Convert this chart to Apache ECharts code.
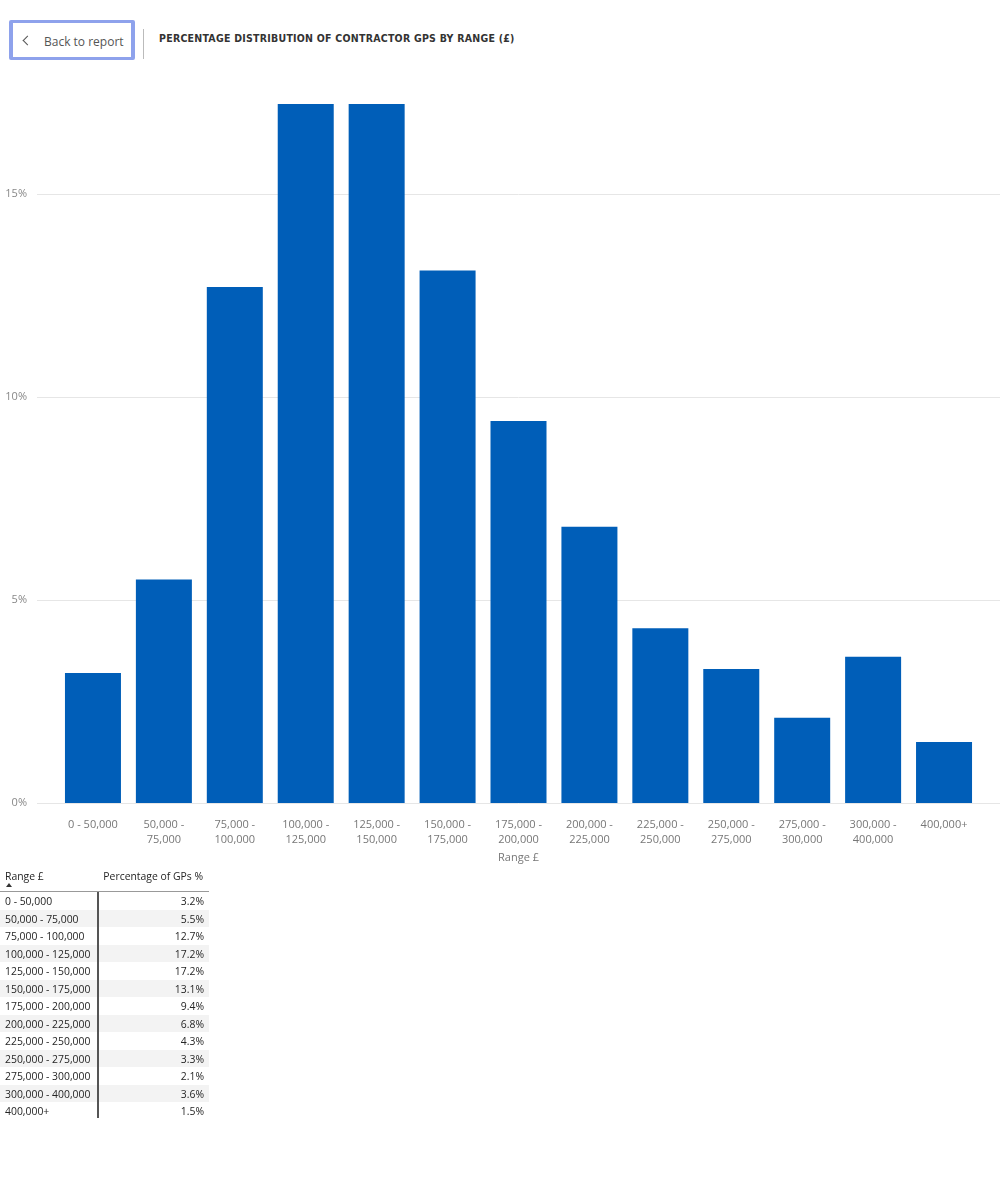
<!DOCTYPE html>
<html>
<head>
<meta charset="utf-8">
<script src="https://cdn.jsdelivr.net/npm/echarts@6/dist/echarts.min.js"></script>
<style>
  body { margin: 0; background: #fff; font-family: "Open Sans", "Noto Sans", sans-serif; }
  #page { position: relative; width: 1006px; height: 1200px; }
  #back { position: absolute; left: 9px; top: 20px; width: 118px; height: 34px; border: 3.5px solid #8ea2ec; border-left-width: 4px; border-right-width: 4px; border-radius: 2px; }
  #back .chev { position: absolute; left: 11px; top: 14px; width: 6px; height: 6px; border-left: 1.2px solid #555; border-bottom: 1.2px solid #555; transform: rotate(45deg); }
  #back .txt { position: absolute; left: 31px; top: 10px; font-size: 12px; color: #555; }
  #sep { position: absolute; left: 143px; top: 29px; width: 1px; height: 30px; background: #bbb; }
  #title { position: absolute; left: 159px; top: 32px; font-family: "DejaVu Sans Condensed", "DejaVu Sans", sans-serif; font-weight: bold; font-size: 10.5px; letter-spacing: 0.25px; color: #333; }
  #chart { position: absolute; left: 0; top: 0; width: 1006px; height: 870px; }
  #tbl { position: absolute; left: 0; top: 867px; width: 209px; font-size: 10.4px; color: #252525; }
  #tbl .hd { position: relative; height: 24px; border-bottom: 1px solid #999; }
  #tbl .hd .c1 { position: absolute; left: 5px; top: 2px; }
  #tbl .hd .c2 { position: absolute; right: 6px; top: 2px; }
  #tbl .hd .arr { position: absolute; left: 6px; top: 16px; width: 0; height: 0; border-left: 3.5px solid transparent; border-right: 3.5px solid transparent; border-bottom: 4px solid #333; }
  #tbl .row { position: relative; height: 17.5px; line-height: 19px; }
  #tbl .row.alt { background: #f3f3f3; }
  #tbl .row .c1 { position: absolute; left: 5px; }
  #tbl .row .c2 { position: absolute; right: 5px; }
  #vline { position: absolute; left: 97px; top: 892px; width: 1.5px; height: 226px; background: #555; }
</style>
</head>
<body>
<div id="page">
  <div id="back"><span class="chev"></span><span class="txt">Back to report</span></div>
  <div id="sep"></div>
  <div id="title">PERCENTAGE DISTRIBUTION OF CONTRACTOR GPS BY RANGE (£)</div>
  <div id="chart"></div>
  <div id="tbl"></div>
  <div id="vline"></div>
</div>
<script>
// data
var ranges = ['0 - 50,000', '50,000 - 75,000', '75,000 - 100,000', '100,000 - 125,000', '125,000 - 150,000',
  '150,000 - 175,000', '175,000 - 200,000', '200,000 - 225,000', '225,000 - 250,000', '250,000 - 275,000',
  '275,000 - 300,000', '300,000 - 400,000', '400,000+'];
var percentGPs = [3.2, 5.5, 12.7, 17.2, 17.2, 13.1, 9.4, 6.8, 4.3, 3.3, 2.1, 3.6, 1.5];
var yTicks = [0, 5, 10, 15];

// table under the chart
var tbl = document.getElementById('tbl');
var html = '<div class="hd"><span class="c1">Range £</span><span class="arr"></span><span class="c2">Percentage of GPs %</span></div>';
for (var i = 0; i < ranges.length; i++) {
    html += '<div class="row' + (i % 2 == 1 ? ' alt' : '') + '"><span class="c1">' + ranges[i] +
        '</span><span class="c2">' + percentGPs[i].toFixed(1) + '%</span></div>';
}
tbl.innerHTML = html;

var dom = document.getElementById('chart');
var myChart = echarts.init(dom);
var labelFont = '"Open Sans", "Noto Sans", sans-serif';
option = {
    animation: false,
    grid: [
        // grid 0 only carries the y labels and gridlines (full width)
        { left: 37, right: 6, top: 194, height: 609 },
        // grid 1 carries the bars
        { left: 57.5, right: 26.5, top: 104, height: 699 }
    ],
    xAxis: [
        { gridIndex: 0, type: 'category', data: [], show: false },
        {
            gridIndex: 1,
            type: 'category',
            data: ranges,
            axisLine: { show: false },
            axisTick: { show: false },
            name: 'Range £',
            nameLocation: 'middle',
            nameGap: 44,
            nameTextStyle: { color: '#777', fontSize: 11, fontFamily: labelFont },
            axisLabel: {
                interval: 0,
                margin: 14,
                color: '#777',
                fontSize: 11,
                lineHeight: 15,
                fontFamily: labelFont,
                formatter: function (value) {
                    if (value.length > 10) return value.replace(' - ', ' -\n');
                    return value;
                }
            }
        }
    ],
    yAxis: [
        {
            gridIndex: 0,
            type: 'value',
            min: yTicks[0],
            max: yTicks[yTicks.length - 1],
            interval: 5,
            axisLine: { show: false },
            axisTick: { show: false },
            axisLabel: { color: '#888', fontSize: 11, margin: 10, fontFamily: labelFont, formatter: '{value}%' },
            splitLine: { lineStyle: { color: '#e6e6e6', width: 1 } }
        },
        { gridIndex: 1, type: 'value', min: 0, max: 17.2, show: false }
    ],
    series: [{
        type: 'bar',
        xAxisIndex: 1,
        yAxisIndex: 1,
        data: percentGPs,
        barWidth: 56,
        itemStyle: { color: '#005eb8' }
    }]
};
if (option && typeof option === "object") {
    myChart.setOption(option, true);
}
</script>
</body>
</html>
